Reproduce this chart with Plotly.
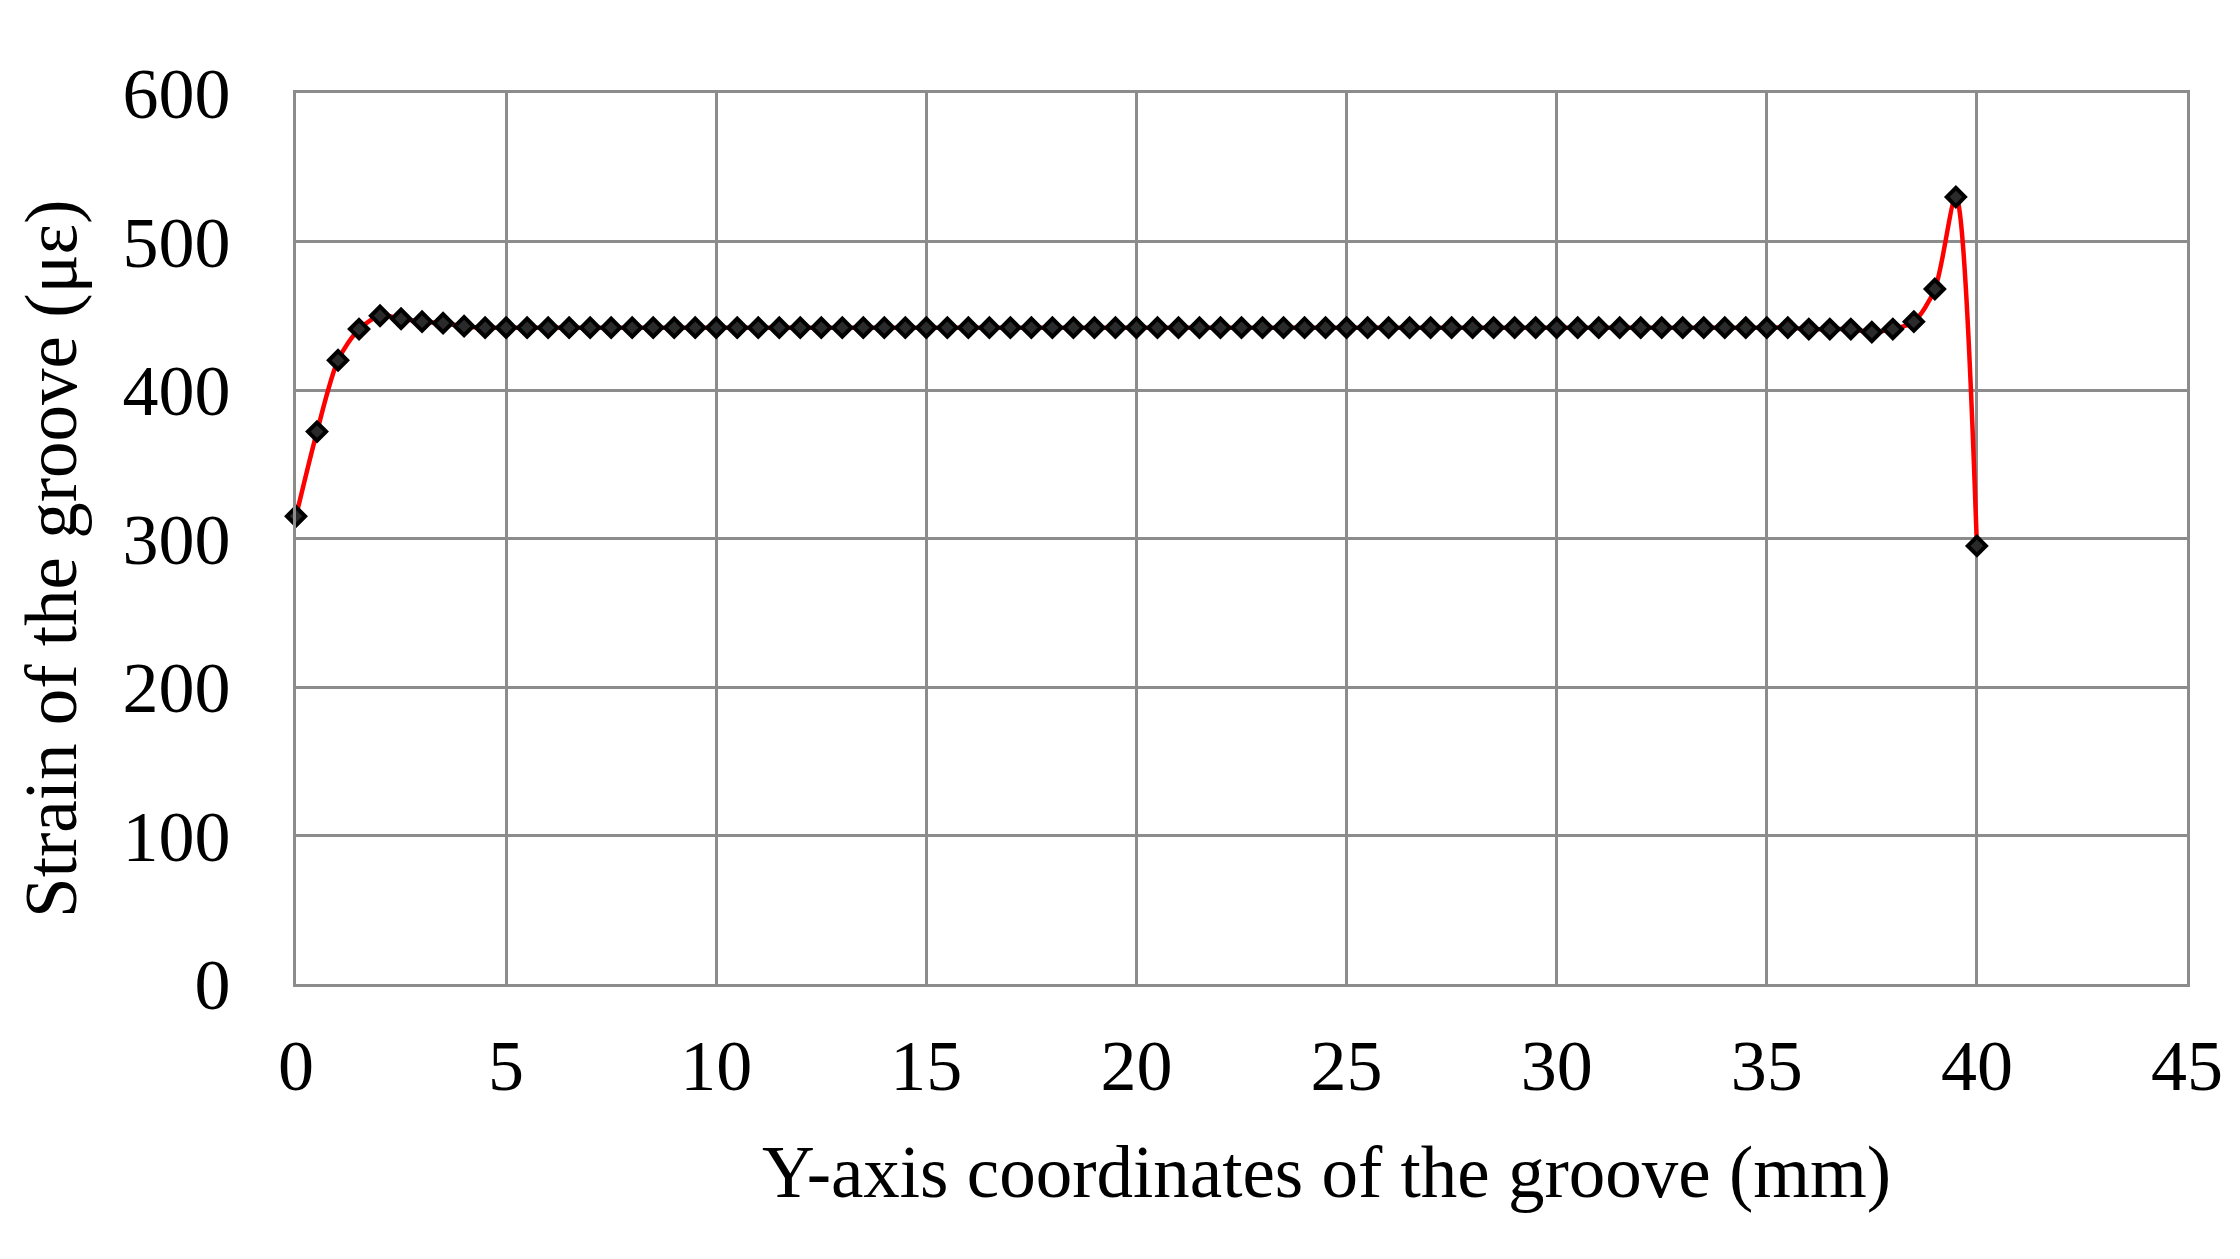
import plotly.graph_objects as go

x_mm = [0, 0.5, 1, 1.5, 2, 2.5, 3, 3.5, 4, 4.5,
        5, 5.5, 6, 6.5, 7, 7.5, 8, 8.5, 9, 9.5,
        10, 10.5, 11, 11.5, 12, 12.5, 13, 13.5, 14, 14.5,
        15, 15.5, 16, 16.5, 17, 17.5, 18, 18.5, 19, 19.5,
        20, 20.5, 21, 21.5, 22, 22.5, 23, 23.5, 24, 24.5,
        25, 25.5, 26, 26.5, 27, 27.5, 28, 28.5, 29, 29.5,
        30, 30.5, 31, 31.5, 32, 32.5, 33, 33.5, 34, 34.5,
        35, 35.5, 36, 36.5, 37, 37.5, 38, 38.5, 39, 39.5,
        40]

strain = [315, 372, 420, 441, 450, 448, 446, 445, 443,
          442, 442, 442, 442, 442, 442, 442, 442, 442,
          442, 442, 442, 442, 442, 442, 442, 442, 442,
          442, 442, 442, 442, 442, 442, 442, 442, 442,
          442, 442, 442, 442, 442, 442, 442, 442, 442,
          442, 442, 442, 442, 442, 442, 442, 442, 442,
          442, 442, 442, 442, 442, 442, 442, 442, 442,
          442, 442, 442, 442, 442, 442, 442, 442, 442,
          441, 441, 441, 439, 441, 446, 468, 530, 295]

x_ticks = [0, 5, 10, 15, 20, 25, 30, 35, 40, 45]
y_ticks = [0, 100, 200, 300, 400, 500, 600]
x_title = "Y-axis coordinates of the groove (mm)"
y_title = "Strain of the groove (με)"

FONT = "Liberation Serif, Times New Roman, serif"
GRID = "#8c8c8c"

fig = go.Figure()
fig.add_trace(go.Scatter(
    x=x_mm, y=strain, mode="lines+markers",
    line=dict(color="#ff0000", width=4.5, shape="spline", smoothing=0.8),
    marker=dict(symbol="diamond", size=14, color="#2a2a2a",
                line=dict(color="black", width=4)),
    showlegend=False, cliponaxis=False,
))

fig.update_layout(
    width=2232, height=1251,
    paper_bgcolor="white", plot_bgcolor="white",
    margin=dict(l=288, r=53, t=85, b=275, autoexpand=False),
    font=dict(family=FONT, size=72, color="black"),
    annotations=[
        dict(text=x_title, xref="paper", yref="paper", x=0.5452, y=-0.2121,
             xanchor="center", yanchor="middle", showarrow=False,
             font=dict(family=FONT, size=73, color="black")),
        dict(text=y_title, xref="paper", yref="paper", x=-0.1296, y=0.4781,
             xanchor="center", yanchor="middle", showarrow=False, textangle=-90,
             font=dict(family=FONT, size=73, color="black")),
    ],
)
fig.update_xaxes(
    range=[0, 45], tickvals=x_ticks, ticktext=[str(v) for v in x_ticks],
    showgrid=True, gridcolor=GRID, gridwidth=3,
    showline=True, linecolor=GRID, linewidth=3, mirror=True,
    zeroline=False, ticks="", ticklabelstandoff=17,
    tickfont=dict(family=FONT, size=72),
)
fig.update_yaxes(
    range=[0, 600], tickvals=y_ticks, ticktext=[str(v) for v in y_ticks],
    showgrid=True, gridcolor=GRID, gridwidth=3,
    showline=True, linecolor=GRID, linewidth=3, mirror=True,
    zeroline=False, ticks="", ticklabelstandoff=48,
    tickfont=dict(family=FONT, size=72),
)

fig.write_html("out.html")
